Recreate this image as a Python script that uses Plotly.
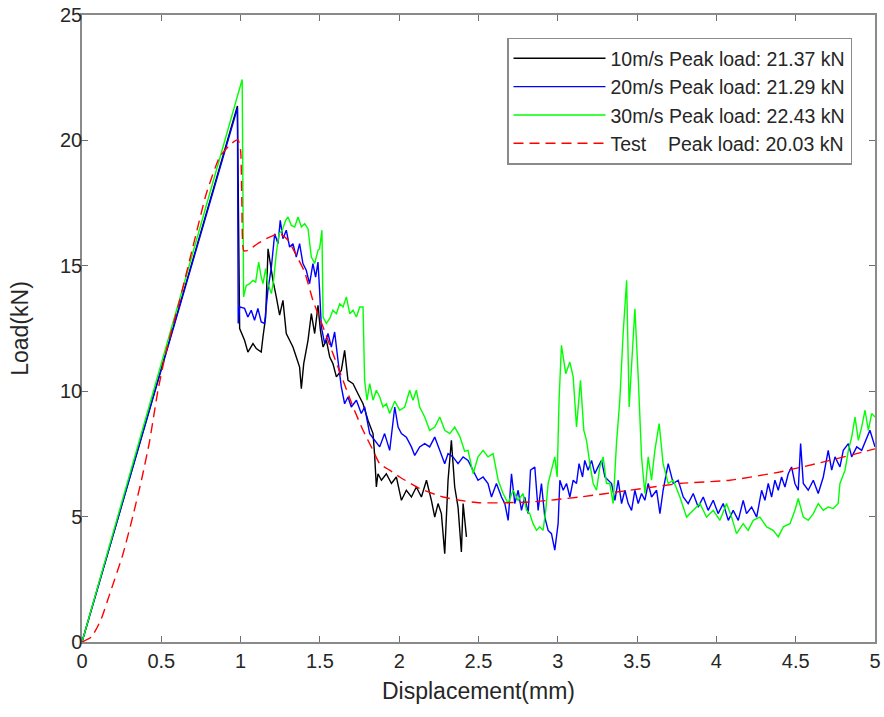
import plotly.graph_objects as go

# ---------------- data ----------------
x_10 = [0, 0.98, 0.994, 1.025, 1.046, 1.078, 1.099, 1.13, 1.141, 1.158,
        1.173, 1.19, 1.204, 1.225, 1.246, 1.267, 1.288, 1.309, 1.33, 1.351,
        1.372, 1.383, 1.398, 1.425, 1.446, 1.467, 1.488, 1.503, 1.52, 1.541,
        1.562, 1.582, 1.604, 1.635, 1.656, 1.677, 1.709, 1.74, 1.772, 1.803,
        1.835, 1.845, 1.856, 1.866, 1.888, 1.919, 1.951, 1.982, 2.014, 2.045,
        2.077, 2.108, 2.14, 2.172, 2.203, 2.224, 2.245, 2.266, 2.287, 2.308,
        2.329, 2.35, 2.371, 2.392, 2.403, 2.424]
y_10 = [0, 21.37, 12.5, 12.03, 11.56, 11.9, 11.7, 11.56, 12.16, 12.96,
        15.68, 14.95, 14.42, 13.76, 13.03, 13.62, 12.3, 12.03, 11.76, 11.36,
        10.96, 10.1, 11.1, 12.03, 13.09, 12.3, 13.42, 12.43, 11.76, 12.03,
        11.36, 11.1, 10.57, 10.83, 11.63, 10.43, 10.3, 9.9, 9.5, 8.84,
        8.31, 7.45, 6.18, 6.71, 6.45, 6.71, 6.32, 6.58, 5.65, 6.05,
        5.78, 6.18, 5.78, 6.45, 5.65, 4.98, 5.52, 5.12, 3.52, 6.45,
        8.04, 6.18, 5.38, 3.59, 5.52, 4.19]

x_20 = [0, 0.98, 0.985, 0.994, 1.025, 1.046, 1.067, 1.088, 1.109, 1.13,
        1.151, 1.172, 1.194, 1.215, 1.236, 1.25, 1.267, 1.288, 1.309, 1.33,
        1.351, 1.372, 1.393, 1.414, 1.435, 1.456, 1.473, 1.488, 1.498, 1.509,
        1.53, 1.551, 1.572, 1.593, 1.614, 1.635, 1.656, 1.677, 1.698, 1.73,
        1.761, 1.782, 1.814, 1.845, 1.877, 1.908, 1.94, 1.972, 1.993, 2.014,
        2.045, 2.077, 2.098, 2.129, 2.161, 2.192, 2.224, 2.256, 2.287, 2.308,
        2.339, 2.371, 2.403, 2.434, 2.466, 2.497, 2.529, 2.56, 2.582, 2.613,
        2.645, 2.666, 2.687, 2.708, 2.729, 2.75, 2.771, 2.792, 2.813, 2.828,
        2.855, 2.876, 2.897, 2.918, 2.939, 2.96, 2.981, 3.002, 3.013, 3.034,
        3.055, 3.076, 3.097, 3.118, 3.134, 3.156, 3.17, 3.191, 3.213, 3.233,
        3.254, 3.276, 3.297, 3.318, 3.339, 3.36, 3.381, 3.402, 3.423, 3.444,
        3.465, 3.486, 3.507, 3.528, 3.549, 3.57, 3.591, 3.623, 3.644, 3.664,
        3.696, 3.728, 3.759, 3.791, 3.822, 3.854, 3.885, 3.917, 3.948, 3.98,
        4.011, 4.043, 4.075, 4.106, 4.138, 4.169, 4.19, 4.222, 4.254, 4.285,
        4.306, 4.327, 4.348, 4.369, 4.39, 4.411, 4.432, 4.453, 4.474, 4.495,
        4.516, 4.531, 4.548, 4.579, 4.611, 4.642, 4.674, 4.705, 4.727, 4.748,
        4.779, 4.8, 4.832, 4.853, 4.885, 4.916, 4.948, 4.968, 5.0]
y_20 = [0, 21.29, 12.7, 13.36, 13.3, 12.96, 13.23, 12.83, 13.3, 12.76,
        12.7, 14.02, 14.95, 16.28, 15.88, 16.81, 16.08, 16.42, 15.75, 15.88,
        15.35, 15.88, 15.09, 14.82, 14.29, 15.09, 14.55, 15.15, 14.02, 12.56,
        11.9, 12.3, 11.76, 12.36, 11.23, 10.17, 9.5, 9.77, 9.37, 9.64,
        9.11, 9.37, 8.31, 8.04, 7.78, 8.31, 7.64, 9.37, 8.57, 8.31,
        8.17, 7.78, 7.44, 7.78, 7.91, 7.78, 8.17, 7.64, 7.11, 7.51,
        7.38, 7.11, 7.38, 7.24, 6.85, 6.45, 6.58, 6.32, 5.78, 6.32,
        5.78, 5.52, 4.85, 6.71, 5.52, 6.05, 5.25, 5.78, 5.12, 6.85,
        6.98, 5.25, 6.32, 4.98, 4.45, 4.32, 3.66, 4.72, 6.45, 6.05,
        6.32, 5.78, 6.45, 6.32, 7.11, 6.58, 7.24, 6.85, 7.24, 6.71,
        6.98, 7.24, 6.58, 6.45, 6.32, 5.65, 6.45, 5.52, 6.05, 5.52,
        5.25, 6.05, 5.52, 5.92, 5.65, 6.32, 5.78, 6.05, 5.12, 6.05,
        7.11, 6.32, 6.45, 5.78, 5.52, 5.92, 5.38, 5.78, 5.25, 5.65,
        5.12, 5.52, 4.85, 5.25, 4.85, 5.65, 5.12, 5.38, 4.98, 6.05,
        5.65, 6.32, 5.78, 6.45, 6.05, 6.58, 6.18, 6.71, 6.98, 6.32,
        6.05, 7.91, 6.32, 6.05, 6.45, 5.92, 6.58, 7.64, 6.85, 7.38,
        6.98, 7.64, 7.91, 7.38, 7.78, 7.64, 8.17, 8.44, 7.78]

x_30 = [0, 1.01, 1.019, 1.036, 1.057, 1.078, 1.095, 1.114, 1.13, 1.141,
        1.158, 1.172, 1.194, 1.208, 1.225, 1.242, 1.263, 1.284, 1.299, 1.32,
        1.341, 1.362, 1.383, 1.404, 1.425, 1.446, 1.467, 1.488, 1.498, 1.513,
        1.52, 1.541, 1.562, 1.582, 1.604, 1.625, 1.646, 1.667, 1.688, 1.709,
        1.73, 1.751, 1.772, 1.782, 1.797, 1.814, 1.835, 1.856, 1.877, 1.898,
        1.919, 1.94, 1.972, 2.003, 2.035, 2.066, 2.087, 2.108, 2.129, 2.161,
        2.192, 2.224, 2.256, 2.287, 2.319, 2.35, 2.382, 2.413, 2.434, 2.466,
        2.497, 2.529, 2.56, 2.592, 2.624, 2.655, 2.687, 2.718, 2.75, 2.781,
        2.803, 2.823, 2.844, 2.866, 2.886, 2.907, 2.924, 2.939, 2.96, 2.981,
        2.996, 3.008, 3.023, 3.05, 3.076, 3.097, 3.118, 3.143, 3.164, 3.181,
        3.202, 3.223, 3.244, 3.265, 3.286, 3.307, 3.328, 3.349, 3.37, 3.391,
        3.412, 3.434, 3.45, 3.471, 3.486, 3.507, 3.528, 3.549, 3.57, 3.591,
        3.612, 3.639, 3.664, 3.696, 3.728, 3.77, 3.812, 3.854, 3.896, 3.938,
        3.98, 4.022, 4.064, 4.096, 4.127, 4.169, 4.2, 4.232, 4.274, 4.317,
        4.358, 4.39, 4.422, 4.464, 4.495, 4.516, 4.548, 4.579, 4.611, 4.642,
        4.674, 4.705, 4.737, 4.768, 4.779, 4.811, 4.832, 4.853, 4.874, 4.895,
        4.916, 4.937, 4.958, 4.979, 5.0]
y_30 = [0, 22.43, 13.76, 14.22, 14.29, 14.42, 14.35, 15.15, 14.55, 14.29,
        14.89, 14.29, 13.89, 14.42, 15.49, 16.28, 16.42, 16.81, 16.95, 16.61,
        16.55, 16.95, 16.55, 16.68, 16.48, 15.35, 15.09, 15.62, 15.68, 16.42,
        12.96, 12.7, 12.9, 13.23, 13.09, 13.49, 13.36, 13.76, 13.09, 13.23,
        12.96, 13.36, 13.36, 10.43, 9.64, 10.3, 9.64, 10.04, 9.77, 9.37,
        9.5, 9.11, 9.6, 9.24, 9.37, 10.04, 9.64, 10.04, 9.37, 8.97,
        8.44, 8.57, 8.97, 8.44, 8.31, 8.57, 8.2, 7.6, 7.64, 6.71,
        7.38, 7.64, 7.38, 7.51, 6.45, 5.92, 5.52, 6.05, 5.65, 5.92,
        5.25, 5.12, 4.72, 4.45, 4.59, 4.45, 5.25, 6.32, 6.85, 7.38,
        6.58, 9.64, 11.83, 10.7, 11.16, 10.57, 8.57, 10.43, 8.44, 8.04,
        7.11, 6.32, 6.05, 6.98, 7.38, 6.32, 6.32, 5.52, 7.91, 9.64,
        12.3, 14.42, 9.37, 11.63, 13.29, 10.57, 7.38, 5.92, 7.38, 6.45,
        7.64, 8.71, 7.11, 6.32, 6.45, 5.78, 4.98, 5.25, 5.52, 4.98,
        5.25, 4.85, 5.52, 4.98, 4.32, 4.72, 4.45, 4.85, 4.98, 4.59,
        4.45, 4.19, 4.59, 4.72, 5.25, 5.72, 4.98, 4.85, 5.12, 5.52,
        5.25, 5.38, 5.32, 5.52, 6.32, 6.85, 7.64, 8.17, 8.97, 8.04,
        8.57, 9.24, 8.44, 9.11, 8.97]

x_test = [0, 0.06, 0.12, 0.174, 0.258, 0.32, 0.38, 0.426, 0.478, 0.531,
          0.615, 0.699, 0.784, 0.868, 0.941, 0.983, 1.0, 1.008, 1.02, 1.046,
          1.1, 1.162, 1.246, 1.299, 1.351, 1.404, 1.456, 1.52, 1.582, 1.646,
          1.709, 1.772, 1.835, 1.877, 1.94, 2.003, 2.129, 2.276, 2.382, 2.508,
          2.823, 3.139, 3.454, 3.77, 4.085, 4.4, 4.716, 4.926, 5.0]
y_test = [0, 0.2, 0.9, 1.9, 3.5, 5.0, 6.6, 8.0, 10.0, 11.6,
          13.6, 15.75, 17.88, 19.34, 19.87, 20.03, 19.6, 17.5, 15.6, 15.62,
          15.85, 16.08, 16.28, 16.02, 15.42, 14.75, 13.62, 12.56, 11.5, 10.43,
          9.37, 8.44, 7.64, 7.11, 6.85, 6.58, 6.12, 5.78, 5.65, 5.55,
          5.58, 5.78, 6.05, 6.32, 6.45, 6.78, 7.24, 7.58, 7.7]

names = ["10m/s Peak load: 21.37 kN",
         "20m/s Peak load: 21.29 kN",
         "30m/s Peak load: 22.43 kN",
         "Test\u00a0\u00a0\u00a0\u00a0Peak load: 20.03 kN"]

x_ticks = [0, 0.5, 1, 1.5, 2, 2.5, 3, 3.5, 4, 4.5, 5]
y_ticks = [0, 5, 10, 15, 20, 25]

FONT = "Liberation Sans, Arial, sans-serif"

# ---------------- figure ----------------
fig = go.Figure()
fig.add_trace(go.Scatter(x=x_10, y=y_10, mode="lines", name=names[0],
                         line=dict(color="#000000", width=1.4)))
fig.add_trace(go.Scatter(x=x_20, y=y_20, mode="lines", name=names[1],
                         line=dict(color="#0000ff", width=1.4)))
fig.add_trace(go.Scatter(x=x_30, y=y_30, mode="lines", name=names[2],
                         line=dict(color="#00ff00", width=1.4)))
fig.add_trace(go.Scatter(x=x_test, y=y_test, mode="lines", name=names[3],
                         line=dict(color="#ff0000", width=1.4, dash="10px,6px",
                                   shape="spline", smoothing=0.5)))

axis_common = dict(
    showline=True, linecolor="#8a8a8a", linewidth=1.5, mirror="ticks",
    ticks="inside", ticklen=6, tickwidth=1, tickcolor="#6e6e6e",
    showgrid=False, zeroline=False, automargin=False,
    tickfont=dict(family=FONT, size=20, color="#262626"),
)

fig.update_xaxes(range=[0, 5], tickvals=x_ticks, ticktext=[f"{v:g}" for v in x_ticks],
                 title=dict(text="Displacement(mm)", standoff=12,
                            font=dict(family=FONT, size=23, color="#262626")),
                 **axis_common)
fig.update_yaxes(range=[0, 25], tickvals=y_ticks, ticktext=[str(v) for v in y_ticks],
                 ticklabelstandoff=-6,
                 title=dict(text="Load(kN)", standoff=25,
                            font=dict(family=FONT, size=23, color="#262626")),
                 **axis_common)

fig.update_layout(
    width=884, height=717,
    margin=dict(l=82, r=9, t=15, b=75, autoexpand=False),
    paper_bgcolor="white", plot_bgcolor="white",
    font=dict(family=FONT, color="#262626"),
    legend=dict(x=0.971, y=0.964, xanchor="right", yanchor="top",
                bgcolor="white", bordercolor="#8a8a8a", borderwidth=1.5,
                font=dict(family=FONT, size=19.5, color="#262626"),
                tracegroupgap=0, itemwidth=92),
    showlegend=True,
)

fig.write_html("out.html",
               config={"displayModeBar": False},
               post_script="document.body.style.margin='0';document.body.style.overflow='hidden';")
